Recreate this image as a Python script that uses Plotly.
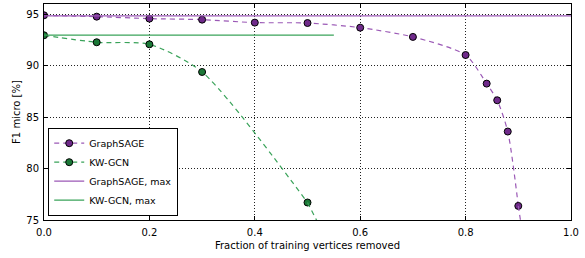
import plotly.graph_objects as go

# Data
sage_x = [0.0, 0.1, 0.2, 0.3, 0.4, 0.5, 0.6, 0.7, 0.8, 0.84, 0.86, 0.88, 0.9]
sage_y = [94.9, 94.77, 94.58, 94.48, 94.19, 94.15, 93.7, 92.8, 91.04, 88.26, 86.64, 83.6, 76.37]
kw_x = [0.0, 0.1, 0.2, 0.3, 0.5]
kw_y = [92.96, 92.28, 92.08, 89.39, 76.7]
# continuation of the dashed fit curves below the axis
sage_tail_x = [0.9, 0.907]
sage_tail_y = [76.37, 74.0]
kw_tail_x = [0.5, 0.527]
kw_tail_y = [76.7, 74.0]
# max reference lines
sage_max_x = [0.0, 1.0]
sage_max_y = [94.85, 94.85]
kw_max_x = [0.0, 0.55]
kw_max_y = [92.98, 92.98]

PURPLE_DARK = "#6f2a8a"
PURPLE_LINE = "#9b59b6"
GREEN_DARK = "#1b7837"
GREEN_LINE = "#3aa35a"

fig = go.Figure()
fig.add_trace(go.Scatter(x=sage_x, y=sage_y, mode="lines+markers", name="GraphSAGE",
                         line=dict(color=PURPLE_LINE, dash="5px,4px", width=1.2, shape="spline", smoothing=0.7),
                         marker=dict(color=PURPLE_DARK, size=7, line=dict(color="black", width=1)),
                         legendgroup="s"))
fig.add_trace(go.Scatter(x=kw_x, y=kw_y, mode="lines+markers", name="KW-GCN",
                         line=dict(color=GREEN_LINE, dash="5px,4px", width=1.2, shape="spline", smoothing=0.7),
                         marker=dict(color=GREEN_DARK, size=7, line=dict(color="black", width=1)),
                         legendgroup="k"))
fig.add_trace(go.Scatter(x=sage_max_x, y=sage_max_y, mode="lines", name="GraphSAGE, max",
                         line=dict(color=PURPLE_LINE, width=1.2)))
fig.add_trace(go.Scatter(x=kw_max_x, y=kw_max_y, mode="lines", name="KW-GCN, max",
                         line=dict(color=GREEN_LINE, width=1.2)))
fig.add_trace(go.Scatter(x=sage_tail_x, y=sage_tail_y, mode="lines", showlegend=False,
                         line=dict(color=PURPLE_LINE, dash="5px,4px", width=1.2), legendgroup="s"))
fig.add_trace(go.Scatter(x=kw_tail_x, y=kw_tail_y, mode="lines", showlegend=False,
                         line=dict(color=GREEN_LINE, dash="5px,4px", width=1.2), legendgroup="k"))

axis_common = dict(showline=True, linecolor="black", linewidth=1, mirror="allticks",
                   ticks="inside", ticklen=4, tickcolor="black", automargin=False,
                   showgrid=True, gridcolor="#222222", griddash="1px,2px", gridwidth=1,
                   zeroline=False, tickfont=dict(size=10, color="black"))

fig.update_xaxes(range=[0, 1], tickvals=[0, 0.2, 0.4, 0.6, 0.8, 1.0],
                 ticktext=["0.0", "0.2", "0.4", "0.6", "0.8", "1.0"], ticklabelstandoff=3,
                 title=dict(text="Fraction of training vertices removed", font=dict(size=10, color="black"),
                            standoff=4),
                 **axis_common)
fig.update_yaxes(range=[75, 96], tickvals=[75, 80, 85, 90, 95], ticklabelstandoff=2,
                 title=dict(text="F1 micro [%]", font=dict(size=10, color="black"), standoff=3),
                 **axis_common)

fig.update_layout(width=585, height=258, margin=dict(l=44, r=14, t=4, b=38),
                  plot_bgcolor="white", paper_bgcolor="white",
                  font=dict(family="DejaVu Sans", color="black"),
                  legend=dict(x=0.008, y=0.02, xanchor="left", yanchor="bottom",
                              bgcolor="white", bordercolor="black", borderwidth=1,
                              font=dict(size=9.5), tracegroupgap=0, itemwidth=30),
                  showlegend=True)

fig.write_html("out.html", config={"displayModeBar": False},
               post_script="document.body.style.margin='0';document.body.style.padding='0';")
